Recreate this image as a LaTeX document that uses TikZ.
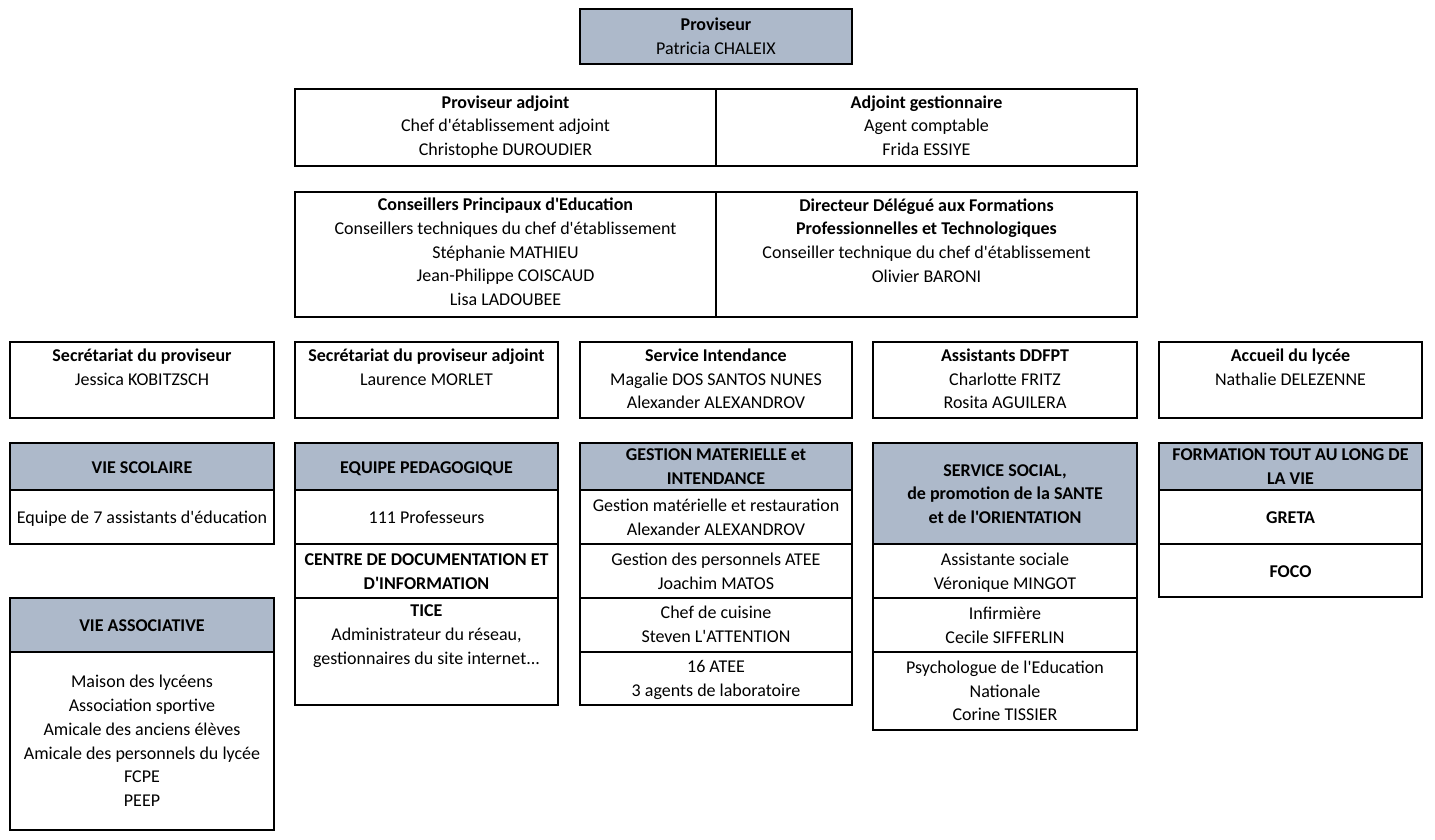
\documentclass[tikz,border=0pt]{standalone}
\usepackage{fontspec}
\setmainfont{Carlito}[Ligatures=TeXOff]
\definecolor{hdrblue}{RGB}{173,185,202}
\tikzset{
  cellbox/.style={draw=black, line width=2pt},
  hdrbox/.style={cellbox, fill=hdrblue},
  txt/.style={align=center, font=\fontsize{18}{23.7}\selectfont, inner sep=0pt, text=black,
    yshift=-3.5pt, execute at begin node=\strut, execute at end node=\strut},
}
\begin{document}
\begin{tikzpicture}[x=1pt,y=-1pt]
\useasboundingbox (0,0) rectangle (1435,839);
% ---------- boxes ----------
\draw[hdrbox] (580,9) rectangle (852,64);
\draw[cellbox] (295,89) rectangle (1137,166);
\draw[cellbox] (716,89) -- (716,166);
\draw[cellbox] (295,192) rectangle (1137,317);
\draw[cellbox] (716,192) -- (716,317);
% row 4
\draw[cellbox] (10,342) rectangle (274,418);
\draw[cellbox] (295,342) rectangle (558,418);
\draw[cellbox] (580,342) rectangle (852,418);
\draw[cellbox] (873,342) rectangle (1137,418);
\draw[cellbox] (1159,342) rectangle (1422,418);
% col 1
\draw[hdrbox] (10,443) rectangle (274,490);
\draw[cellbox] (10,490) rectangle (274,544);
\draw[hdrbox] (10,598) rectangle (274,652);
\draw[cellbox] (10,652) rectangle (274,830);
% col 2
\draw[hdrbox] (295,443) rectangle (558,490);
\draw[cellbox] (295,490) rectangle (558,544);
\draw[cellbox] (295,544) rectangle (558,598);
\draw[cellbox] (295,598) rectangle (558,705);
% col 3
\draw[hdrbox] (580,443) rectangle (852,490);
\draw[cellbox] (580,490) rectangle (852,544);
\draw[cellbox] (580,544) rectangle (852,598);
\draw[cellbox] (580,598) rectangle (852,652);
\draw[cellbox] (580,652) rectangle (852,705);
% col 4
\draw[hdrbox] (873,443) rectangle (1137,544);
\draw[cellbox] (873,544) rectangle (1137,598);
\draw[cellbox] (873,598) rectangle (1137,652);
\draw[cellbox] (873,652) rectangle (1137,730);
% col 5
\draw[hdrbox] (1159,443) rectangle (1422,490);
\draw[cellbox] (1159,490) rectangle (1422,544);
\draw[cellbox] (1159,544) rectangle (1422,597);
% ---------- texts ----------
\node[txt] (prov) at (716,36.5) {\textbf{Proviseur}\\Patricia CHALEIX};
\node[txt] (pa) at (505.5,125.5) {\textbf{Proviseur adjoint}\\Chef d'établissement adjoint\\Christophe DUROUDIER};
\node[txt] (ag) at (926.5,125.5) {\textbf{Adjoint gestionnaire}\\Agent comptable\\Frida ESSIYE};
\node[txt] (cpe) at (505.5,252) {\textbf{Conseillers Principaux d'Education}\\Conseillers techniques du chef d'établissement\\Stéphanie MATHIEU\\Jean-Philippe COISCAUD\\Lisa LADOUBEE};
\node[txt] (ddfpt) at (926.5,240.5) {\textbf{Directeur Délégué aux Formations}\\\textbf{Professionnelles et Technologiques}\\Conseiller technique du chef d'établissement\\Olivier BARONI};
\node[txt] (secp) at (142,367) {\textbf{Secrétariat du proviseur}\\Jessica KOBITZSCH};
\node[txt] (secpa) at (426.5,367) {\textbf{Secrétariat du proviseur adjoint}\\Laurence MORLET};
\node[txt] (servint) at (716,379) {\textbf{Service Intendance}\\Magalie DOS SANTOS NUNES\\Alexander ALEXANDROV};
\node[txt] (assdd) at (1005,379) {\textbf{Assistants DDFPT}\\Charlotte FRITZ\\Rosita AGUILERA};
\node[txt] (accueil) at (1290.5,367) {\textbf{Accueil du lycée}\\Nathalie DELEZENNE};
% col 1
\node[txt] (viesco) at (142,465) {\textbf{VIE SCOLAIRE}};
\node[txt] (equipe) at (142,515.5) {Equipe de 7 assistants d'éducation};
\node[txt] (vieasso) at (142,623.5) {\textbf{VIE ASSOCIATIVE}};
\node[txt] (asso) at (142,741) {Maison des lycéens\\Association sportive\\Amicale des anciens élèves\\Amicale des personnels du lycée\\FCPE\\PEEP};
% col 2
\node[txt] (eqped) at (426.5,465) {\textbf{EQUIPE PEDAGOGIQUE}};
\node[txt] (prof) at (426.5,515.5) {111 Professeurs};
\node[txt] (cdi) at (426.5,571.5) {\textbf{CENTRE DE DOCUMENTATION ET}\\\textbf{D'INFORMATION}};
\node[txt] (tice) at (426.5,634.5) {\textbf{TICE}\\Administrateur du réseau,\\gestionnaires du site internet...};
% col 3
\node[txt] (gmi) at (716,466.5) {\textbf{GESTION MATERIELLE et}\\\textbf{INTENDANCE}};
\node[txt] (gmr) at (716,517) {Gestion matérielle et restauration\\Alexander ALEXANDROV};
\node[txt] (gpa) at (716,571.5) {Gestion des personnels ATEE\\Joachim MATOS};
\node[txt] (cuis) at (716,624.5) {Chef de cuisine\\Steven L'ATTENTION};
\node[txt] (atee) at (716,678.5) {16 ATEE\\3 agents de laboratoire};
% col 4
\node[txt] (socsvc) at (1005,494) {\textbf{SERVICE SOCIAL,}\\\textbf{de promotion de la SANTE}\\\textbf{et de l'ORIENTATION}};
\node[txt] (assoc) at (1005,571.5) {Assistante sociale\\Véronique MINGOT};
\node[txt] (infirm) at (1005,625.5) {Infirmière\\Cecile SIFFERLIN};
\node[txt] (psy) at (1005,691) {Psychologue de l'Education\\Nationale\\Corine TISSIER};
% col 5
\node[txt] (ftlv) at (1290.5,466.5) {\textbf{FORMATION TOUT AU LONG DE}\\\textbf{LA VIE}};
\node[txt] (greta) at (1290.5,515.5) {\textbf{GRETA}};
\node[txt] (foco) at (1290.5,569) {\textbf{FOCO}};
\end{tikzpicture}
\end{document}
